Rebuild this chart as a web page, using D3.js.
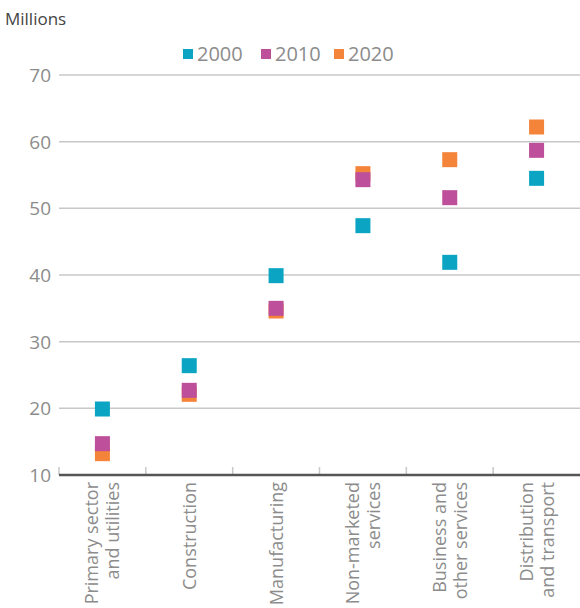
<!DOCTYPE html>
<html>
<head>
<meta charset="utf-8">
<script src="https://cdn.jsdelivr.net/npm/d3@7"></script>
<style>
  body { margin: 0; background: #fff; }
  text { font-family: "Open Sans", "Noto Sans", sans-serif; }
</style>
</head>
<body>
<div id="chart"></div>
<script>
// Employment by sector, millions
const sectors = [
    ["Primary sector", "and utilities"],
    ["Construction"],
    ["Manufacturing"],
    ["Non-marketed", "services"],
    ["Business and", "other services"],
    ["Distribution", "and transport"]
];
const years = ["2000", "2010", "2020"];
const values2000 = [19.9, 26.4, 39.9, 47.4, 41.9, 54.5];
const values2010 = [14.7, 22.7, 35.0, 54.3, 51.6, 58.7];
const values2020 = [13.2, 22.1, 34.6, 55.2, 57.3, 62.2];
const yTicks = [10, 20, 30, 40, 50, 60, 70];
const colors = ["#0ba5c3", "#bd4f9b", "#f5843b"];

const W = 580, H = 608;
const margin = {top: 75, right: 0, bottom: 133, left: 59};
const width = W - margin.left - margin.right;
const height = H - margin.top - margin.bottom;

const svg = d3.select("#chart").append("svg")
    .attr("width", W)
    .attr("height", H);

const g = svg.append("g")
    .attr("transform", `translate(${margin.left},${margin.top})`);

const names = sectors.map(d => d.join(" "));
const x = d3.scaleBand().domain(names).range([0, width]);
const y = d3.scaleLinear().domain([10, 70]).range([height, 0]);

// gridlines + y labels
g.selectAll(".grid")
    .data(yTicks.filter(t => t > 10))
    .enter().append("line")
    .attr("x1", 0).attr("x2", width)
    .attr("y1", d => y(d)).attr("y2", d => y(d))
    .attr("stroke", "#c8c8c8")
    .attr("stroke-width", 1.5);

g.selectAll(".ylab")
    .data(yTicks)
    .enter().append("text")
    .attr("x", -8)
    .attr("y", d => y(d))
    .attr("dy", "0.36em")
    .attr("text-anchor", "end")
    .attr("fill", "#8c8c8c")
    .style("font-size", "19px")
    .text(d => d);

// category separators
const bounds = names.map(n => x(n));
g.selectAll(".sep")
    .data(bounds)
    .enter().append("line")
    .attr("x1", d => d).attr("x2", d => d)
    .attr("y1", height - 8).attr("y2", height)
    .attr("stroke", "#c8c8c8")
    .attr("stroke-width", 1.5);

// x axis line
g.append("line")
    .attr("x1", 0).attr("x2", width)
    .attr("y1", height).attr("y2", height)
    .attr("stroke", "#555")
    .attr("stroke-width", 2.5);

// category labels, rotated
const lineGap = 21;
sectors.forEach((lines, i) => {
    const cx = x(names[i]) + x.bandwidth() / 2;
    lines.forEach((txt, j) => {
        const off = (j - (lines.length - 1) / 2) * lineGap;
        g.append("text")
            .attr("transform", `translate(${cx + off},${height + 7}) rotate(-90)`)
            .attr("dy", "0.36em")
            .attr("text-anchor", "end")
            .attr("fill", "#8c8c8c")
            .style("font-size", "18px")
            .text(txt);
    });
});

// points: draw 2020 first so 2010 sits on top
const sq = 15;
const series = [values2000, values2010, values2020];
[2, 1, 0].forEach(k => {
    g.selectAll(".pt" + k)
        .data(series[k])
        .enter().append("rect")
        .attr("x", (d, i) => x(names[i]) + x.bandwidth() / 2 - sq / 2)
        .attr("y", d => y(d) - sq / 2)
        .attr("width", sq)
        .attr("height", sq)
        .attr("fill", colors[k]);
});

// unit label
svg.append("text")
    .attr("x", 5)
    .attr("y", 25)
    .attr("fill", "#444")
    .style("font-size", "17px")
    .text("Millions");

// legend
const legendX = [183, 261, 334];
years.forEach((yr, i) => {
    svg.append("rect")
        .attr("x", legendX[i])
        .attr("y", 49)
        .attr("width", 10)
        .attr("height", 10)
        .attr("fill", colors[i]);
    svg.append("text")
        .attr("x", legendX[i] + 14)
        .attr("y", 54)
        .attr("dy", "0.36em")
        .attr("fill", "#8c8c8c")
        .style("font-size", "20px")
        .text(yr);
});
</script>
</body>
</html>
